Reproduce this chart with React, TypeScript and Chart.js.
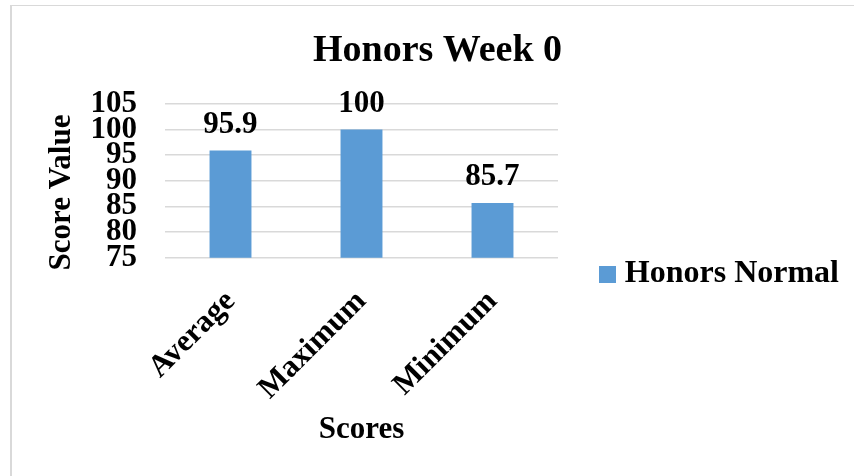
import React, { useEffect, useRef } from "react";
import { Chart, registerables } from "chart.js";

Chart.register(...registerables);

const categories = ["Average", "Maximum", "Minimum"];
const honorsNormal = [95.9, 100, 85.7];
const yTicks = [75, 80, 85, 90, 95, 100, 105];
const seriesLabel = "Honors Normal";
const chartTitle = "Honors Week 0";
const xTitle = "Scores";
const yTitle = "Score Value";

const FONT = '"Liberation Serif", "Times New Roman", serif';
const BLUE = "#5B9BD5";

const valueLabels = {
  id: "valueLabels",
  afterDatasetsDraw(chart: any) {
    const ctx = chart.ctx;
    const meta = chart.getDatasetMeta(0);
    ctx.save();
    ctx.font = `bold 31px ${FONT}`;
    ctx.fillStyle = "#000";
    ctx.textAlign = "center";
    ctx.textBaseline = "alphabetic";
    meta.data.forEach((bar: any, i: number) => {
      const v = chart.data.datasets[0].data[i];
      ctx.fillText(String(v), bar.x, bar.y - 18);
    });
    ctx.restore();
  },
};

export default function App() {
  const ref = useRef<HTMLCanvasElement | null>(null);

  useEffect(() => {
    if (!ref.current) return;
    const swatch = document.createElement("canvas");
    swatch.width = 17;
    swatch.height = 17;
    const sctx = swatch.getContext("2d");
    if (sctx) {
      sctx.fillStyle = BLUE;
      sctx.fillRect(0, 0, 17, 17);
    }

    const chart = new Chart(ref.current, {
      type: "bar",
      data: {
        labels: categories,
        datasets: [
          {
            label: seriesLabel,
            data: honorsNormal,
            backgroundColor: BLUE,
            borderWidth: 0,
            barPercentage: 0.32,
            categoryPercentage: 1,
          },
        ],
      },
      plugins: [valueLabels],
      options: {
        animation: false,
        responsive: true,
        maintainAspectRatio: false,
        layout: { padding: { left: 26, right: 5, top: 0, bottom: 0 } },
        plugins: {
          tooltip: { enabled: false },
          title: {
            display: true,
            text: chartTitle,
            color: "#000",
            font: { family: FONT, size: 38, weight: "bold", lineHeight: 1.2 },
            padding: { top: 28.4, bottom: 30 },
          },
          legend: {
            display: true,
            position: "right",
            align: "center",
            maxWidth: 320,
            title: {
              display: true,
              text: " ",
              color: "rgba(0,0,0,0)",
              font: { family: FONT, size: 10, lineHeight: 1 },
              padding: { top: 62, bottom: 0 },
            },
            labels: {
              usePointStyle: true,
              pointStyle: swatch as any,
              boxWidth: 3,
              padding: 47.8,
              color: "#000",
              font: { family: FONT, size: 32, weight: "bold", lineHeight: 1 },
            },
          },
        },
        scales: {
          x: {
            grid: { display: false },
            border: { display: false },
            ticks: {
              color: "#000",
              font: { family: FONT, size: 31, weight: "bold", lineHeight: 1 },
              minRotation: 45,
              maxRotation: 45,
              autoSkip: false,
              padding: 20,
            },
            title: {
              display: true,
              text: xTitle,
              color: "#000",
              font: { family: FONT, size: 31, weight: "bold", lineHeight: 1 },
              padding: { top: 0, bottom: 31 },
            },
            afterFit: (s: any) => {
              s.height = 218.3;
            },
          },
          y: {
            min: 75,
            max: 105,
            grid: { color: "#d9d9d9", lineWidth: 1.5, drawTicks: false },
            border: { display: false },
            ticks: {
              stepSize: 5,
              autoSkip: false,
              color: "#000",
              font: { family: FONT, size: 31, weight: "bold", lineHeight: 1 },
              padding: 28,
            },
            afterBuildTicks: (s: any) => {
              s.ticks = yTicks.map((v) => ({ value: v }));
            },
            title: {
              display: true,
              text: yTitle + "   ",
              color: "#000",
              font: { family: FONT, size: 31, weight: "bold", lineHeight: 1 },
              padding: { top: 20, bottom: 0 },
            },
            afterFit: (s: any) => {
              s.width = 139;
            },
          },
        },
      } as any,
    });
    return () => chart.destroy();
  }, []);

  return (
    <div
      style={{
        position: "fixed",
        left: 0,
        top: 0,
        width: 854,
        height: 476,
        overflow: "hidden",
        background: "#fff",
      }}
    >
      <div
        style={{
          position: "absolute",
          left: 10,
          top: 5,
          width: 900,
          height: 520,
          borderLeft: "2px solid #d9d9d9",
          borderTop: "1px solid #d9d9d9",
        }}
      />
      <div style={{ position: "absolute", left: 0, top: 0, width: 854, height: 476 }}>
        <canvas ref={ref} />
      </div>
    </div>
  );
}
